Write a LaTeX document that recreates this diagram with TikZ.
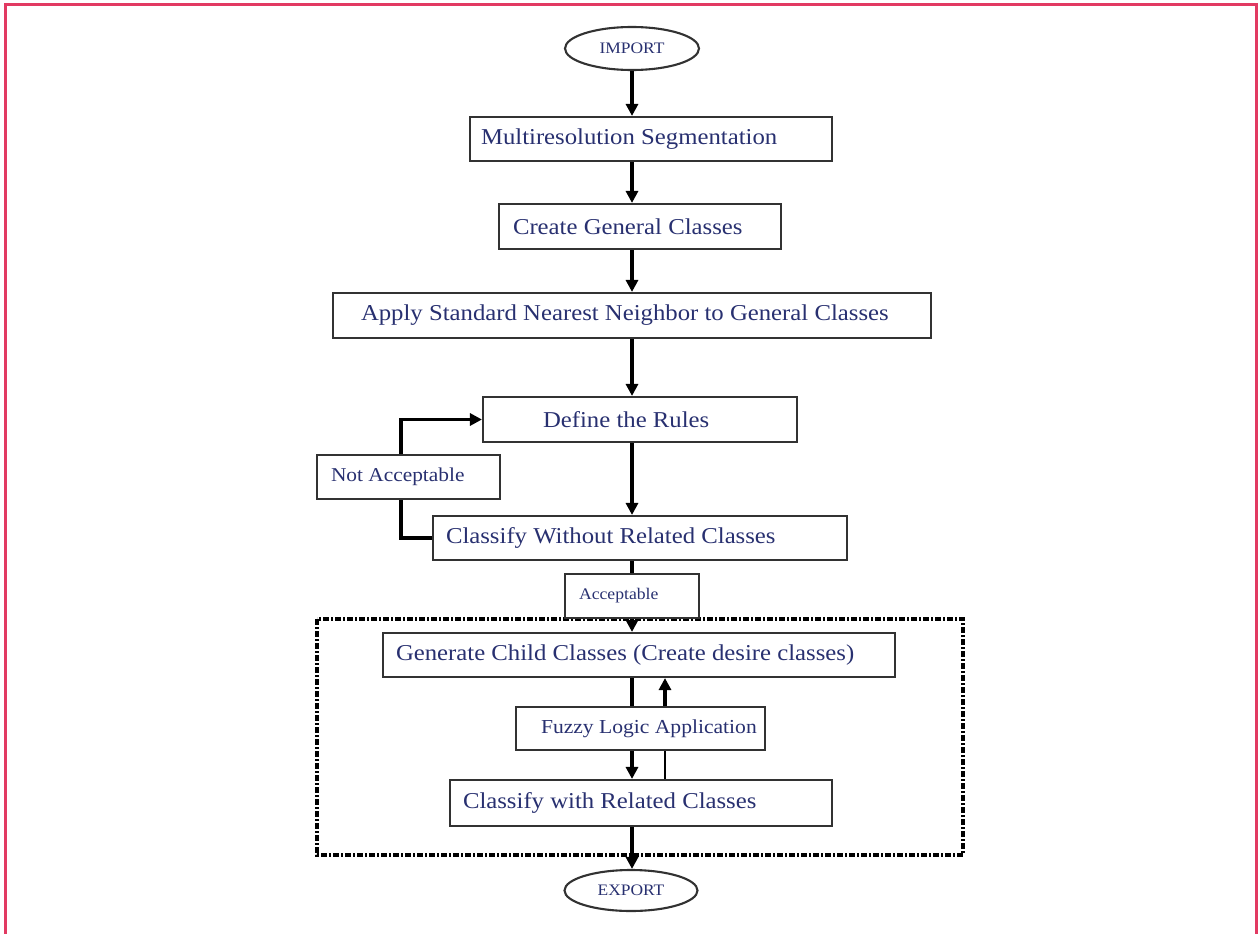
\documentclass[tikz,border=0pt]{standalone}
\usepackage{fontspec}
\setmainfont{Liberation Serif}[FakeStretch=1.09]
\usetikzlibrary{shapes.geometric,arrows.meta}
\definecolor{textblue}{RGB}{40,48,112}
\definecolor{boxgray}{RGB}{50,50,50}
\definecolor{framepink}{RGB}{226,58,98}
\tikzset{
  box/.style={draw=boxgray, line width=2.1pt, minimum height=44pt, inner ysep=0pt,
    text=textblue, font=\fontsize{22.7}{27}\selectfont},
  oval/.style={ellipse, draw=boxgray, line width=2.1pt, text=textblue,
    font=\fontsize{16}{19}\selectfont, inner sep=0pt},
  arr/.style={line width=3.3pt, draw=black, -{Triangle[length=12pt,width=12pt]}},
  ln/.style={line width=3.3pt, draw=black},
  thinln/.style={line width=2.1pt, draw=black},
  dashbox/.style={draw=black, line width=3.2pt, dash pattern=on 6pt off 2pt on 2pt off 2pt},
}
\begin{document}
\begin{tikzpicture}[x=1pt,y=-1pt]
\useasboundingbox (0,0) rectangle (1258,934);
\draw[framepink, line width=2.2pt] (5.5,934) -- (5.5,4.5) -- (1256.5,4.5) -- (1256.5,934);
\coordinate (col) at (632,0);
\coordinate (ret) at (665,0);

\draw[dashbox] (317,619) rectangle (963,855);

\node[oval, minimum width=134pt, minimum height=43pt] (imp) at (632,48.5) {IMPORT};
\node[box, minimum width=362pt, inner xsep=11pt] (ms) at (651,139) {\makebox[340pt][l]{Multiresolution Segmentation}};
\node[box, minimum width=282pt, minimum height=45pt, inner xsep=14pt] (cgc) at (640,226.5) {\makebox[254pt][l]{Create General Classes}};
\node[box, minimum width=598pt, minimum height=45pt, inner xsep=28pt] (app) at (632,315.5) {\makebox[542pt][l]{Apply Standard Nearest Neighbor to General Classes}};
\node[box, minimum width=314pt, minimum height=45pt, inner xsep=60pt] (rul) at (640,419.5) {\makebox[194pt][l]{Define the Rules}};
\node[box, minimum width=183pt, inner xsep=14pt, font=\fontsize{19.6}{23}\selectfont] (na) at (408.5,477) {\makebox[155pt][l]{Not Acceptable}};
\node[box, minimum width=414pt, inner xsep=13pt] (cw) at (640,538) {\makebox[388pt][l]{Classify Without Related Classes}};
\node[box, minimum width=134pt, inner xsep=14pt, font=\fontsize{16.2}{19}\selectfont] (acc) at (632,596) {\makebox[106pt][l]{Acceptable}};
\node[box, minimum width=512pt, inner xsep=13pt] (gen) at (639,655) {\makebox[486pt][l]{Generate Child Classes (Create desire classes)}};
\node[box, minimum width=249pt, minimum height=43pt, inner xsep=25pt, font=\fontsize{19.8}{23}\selectfont] (fz) at (640.5,728.5) {\makebox[199pt][l]{Fuzzy Logic Application}};
\node[box, minimum width=382pt, minimum height=46pt, inner xsep=13pt] (cwr) at (641,803) {\makebox[356pt][l]{Classify with Related Classes}};
\node[oval, minimum width=133pt, minimum height=41pt] (exp) at (631,890.5) {EXPORT};

% main flow
\draw[arr] (col |- imp.south) -- (col |- ms.north);
\draw[arr] (col |- ms.south) -- (col |- cgc.north);
\draw[arr] (col |- cgc.south) -- (col |- app.north);
\draw[arr] (col |- app.south) -- (col |- rul.north);
\draw[arr] (col |- rul.south) -- (col |- cw.north);
\draw[ln] (col |- cw.south) -- (col |- acc.north);
\draw[arr] (col |- acc.south) -- (col |- gen.north);
\draw[ln] (col |- gen.south) -- (col |- fz.north);
\draw[arr] (col |- fz.south) -- (col |- cwr.north);
\draw[arr] (col |- cwr.south) -- (col |- exp.north);

% fuzzy feedback
\draw[thinln] (ret |- cwr.north) -- (ret |- fz.south);
\draw[arr] (ret |- fz.north) -- (ret |- gen.south);

% not acceptable loop
\draw[ln] (cw.west) -| ([xshift=-7.5pt]na.south);
\draw[arr] ([xshift=-7.5pt]na.north) |- (rul.west);
\end{tikzpicture}
\end{document}
